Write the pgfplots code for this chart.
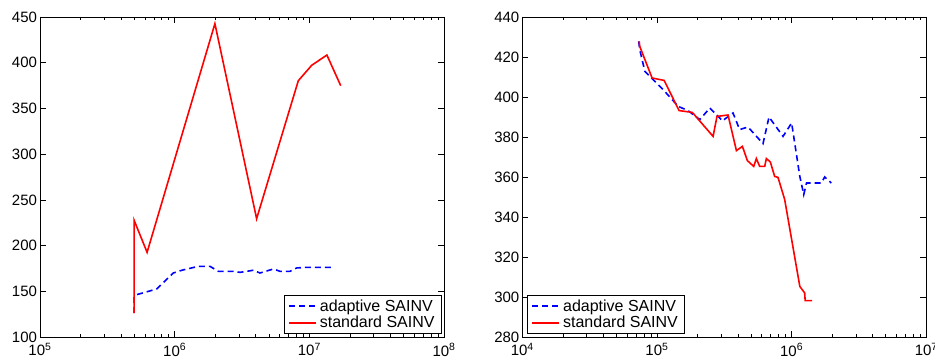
\documentclass[border=0pt]{standalone}
\usepackage{fontspec}
\setmainfont{Liberation Sans}
\usepackage{pgfplots}
\pgfplotsset{compat=1.18}
\pgfplotsset{
  mystyle/.style={
    scale only axis, anchor=south west,
    width=404pt, height=320pt,
    axis line style={line width=0.8pt},
    tick style={line width=0.6pt, black},
    major tick length=6pt, minor tick length=3pt,
    tick align=inside,
    xtick pos=both, ytick pos=both,
    /pgf/number format/assume math mode=true,
    ticklabel style={font=\fontsize{15}{17}\selectfont},
    xticklabel style={yshift=-3pt},
    yticklabel style={xshift=0.5pt},
    legend style={font=\fontsize{16}{19}\selectfont, draw=black, line width=0.8pt,
      inner xsep=4pt, inner ysep=3pt, row sep=1.5pt, cells={anchor=west},
      nodes={inner xsep=3pt, inner ysep=1pt}},
    legend image code/.code={\draw[##1] (0pt,0pt) -- (27pt,0pt);},
  },
}
\begin{document}
\begin{tikzpicture}[x=1pt,y=1pt]
\path[use as bounding box] (0,0) rectangle (935,363);
\begin{axis}[xmode=log, mystyle, at={(40pt,26pt)},
  xmin=1e5, xmax=1e8, ymin=100, ymax=450,
  xtick={1e5,1e6,1e7,1e8},
  xticklabels={10\textsuperscript{5},10\textsuperscript{6},10\textsuperscript{7},10\textsuperscript{8}},
  ytick={100,150,200,250,300,350,400,450},
  legend style={at={(0.995,0.01)}, anchor=south east}]
\addplot[blue, line width=1.6pt, dash pattern=on 6pt off 4pt] coordinates {
(5.0e5,126) (5.0e5,143.4) (5.22e5,146.3) (7.35e5,152.5) (9.77e5,170) (1.13e6,173)
(1.5e6,177.3) (1.83e6,177.3) (2.11e6,171.8) (2.73e6,171.8) (3.06e6,170.7)
(3.84e6,173) (4.3e6,170) (5.41e6,174.4) (6.06e6,171.8) (7.18e6,171.8)
(8.05e6,175.5) (9.55e6,176.2) (1.51e7,176.2)};
\addlegendentry{adaptive SAINV}
\addplot[red, line width=1.6pt] coordinates {
(5.0e5,126) (5.0e5,227.6) (6.24e5,192.6) (1.99e6,442.7) (4.06e6,229.4)
(8.28e6,380.3) (1.04e7,397.1) (1.35e7,408.4) (1.71e7,374.9)};
\addlegendentry{standard SAINV}
\end{axis}
\begin{axis}[xmode=log, mystyle, at={(522.3pt,26pt)},
  xmin=1e4, xmax=1e7, ymin=280, ymax=440,
  xtick={1e4,1e5,1e6,1e7},
  xticklabels={10\textsuperscript{4},10\textsuperscript{5},10\textsuperscript{6},10\textsuperscript{7}},
  ytick={280,300,320,340,360,380,400,420,440},
  legend style={at={(0.012,0.01)}, anchor=south west}]
\addplot[blue, line width=1.6pt, dash pattern=on 6pt off 4pt] coordinates {
(7.32e4,427.8) (7.45e4,423.7) (8.13e4,412.8) (9.1e4,409.5) (1.11e5,403.7)
(1.44e5,395.3) (1.70e5,393.2) (2.08e5,388.7) (2.47e5,394.5) (2.93e5,389.5)
(3.05e5,388) (3.67e5,392) (4.11e5,383.7) (4.74e5,385) (6.13e5,376.7)
(6.79e5,390) (8.63e5,380.3) (1.0e6,387) (1.15e6,360.3) (1.23e6,351.2)
(1.29e6,357) (1.66e6,357) (1.76e6,360) (1.97e6,357)};
\addlegendentry{adaptive SAINV}
\addplot[red, line width=1.6pt] coordinates {
(7.38e4,427.8) (7.45e4,425.3) (9.2e4,409.5) (1.13e5,408.3) (1.46e5,393.2)
(1.83e5,392.3) (2.61e5,380.3) (2.79e5,390.3) (3.37e5,391) (3.89e5,373.2)
(4.31e5,375.3) (4.69e5,368.2) (5.23e5,365.3) (5.47e5,369.2) (5.79e5,365.3)
(6.31e5,365.3) (6.49e5,369.2) (6.95e5,367.5) (7.48e5,360.3) (7.92e5,359.8)
(8.88e5,348.7) (1.15e6,305.3) (1.25e6,302) (1.26e6,298.2) (1.42e6,298.2)};
\addlegendentry{standard SAINV}
\end{axis}
\end{tikzpicture}
\end{document}
